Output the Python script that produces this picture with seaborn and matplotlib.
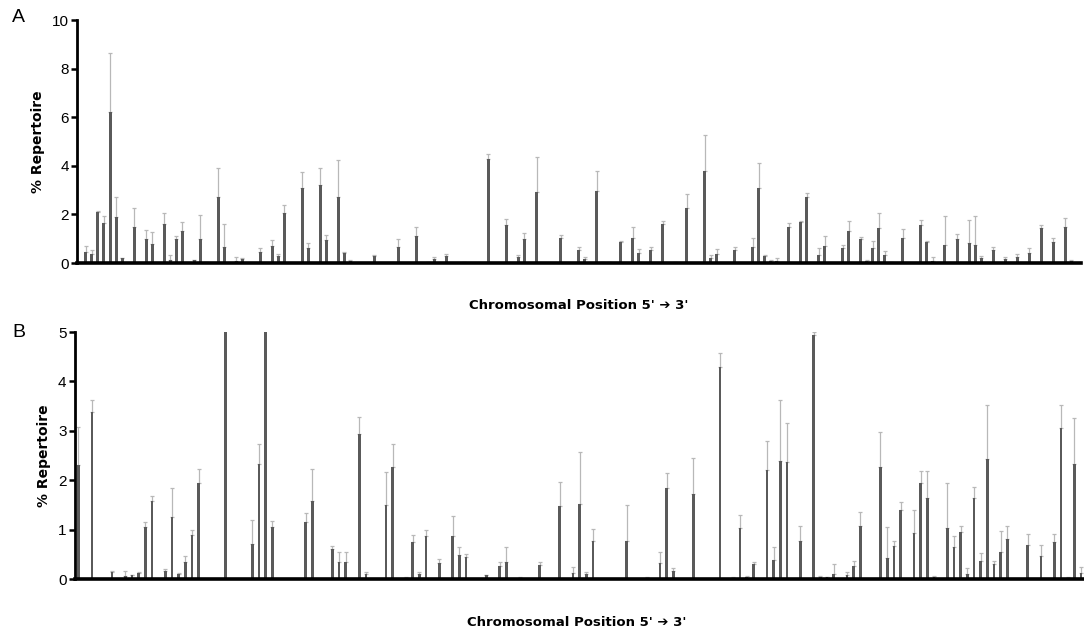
import numpy as np
import pandas as pd
import matplotlib
matplotlib.use("Agg")
import matplotlib.pyplot as plt
import seaborn as sns

# Panel A: bar index (5'->3'), mean % repertoire, top of the error bar
a_pos = [0, 1, 2, 3, 4, 5, 6, 8, 10, 11, 13, 14, 15, 16, 18, 19, 20, 22, 23, 25,
         26, 29, 31, 32, 33, 36, 37, 39, 40, 42, 43, 44, 48, 51, 52, 55, 57, 58, 60, 63,
         67, 70, 72, 73, 75, 79, 82, 83, 85, 86, 87, 89, 91, 92, 94, 96, 98, 100, 103, 104,
         105, 108, 111, 112, 113, 114, 115, 116, 117, 119, 120, 122, 123, 126, 127, 129, 130, 131, 132, 133,
         134, 136, 139, 140, 141, 142, 143, 145, 147, 148, 149, 151, 153, 155, 157, 159, 161, 163, 164]
a_val = [0.45, 0.38, 2.12, 1.64, 6.23, 1.88, 0.19, 1.47, 1.00, 0.78, 1.62, 0.14, 0.99, 1.30, 0.11, 0.99, 0.03, 2.71, 0.68, 0.10,
         0.16, 0.45, 0.72, 0.27, 2.08, 3.11, 0.60, 3.23, 0.93, 2.73, 0.41, 0.10, 0.30, 0.03, 0.68, 1.12, 0.03, 0.16, 0.27, 0.05,
         4.27, 1.56, 0.23, 0.99, 2.92, 1.05, 0.52, 0.18, 2.95, 0.05, 0.05, 0.86, 1.05, 0.40, 0.55, 1.62, 0.05, 2.25, 3.77, 0.20,
         0.37, 0.53, 0.64, 3.10, 0.27, 0.10, 0.10, 0.03, 1.48, 1.71, 2.70, 0.32, 0.71, 0.62, 1.33, 0.99, 0.10, 0.63, 1.44, 0.34,
         0.03, 1.04, 1.56, 0.86, 0.10, 0.03, 0.74, 0.99, 0.82, 0.74, 0.20, 0.52, 0.16, 0.25, 0.41, 1.44, 0.86, 1.47, 0.10]
a_err = [0.71, 0.52, 2.16, 1.92, 8.67, 2.70, 0.20, 2.25, 1.36, 1.26, 2.05, 0.33, 1.10, 1.67, 0.13, 1.99, 0.04, 3.90, 1.60, 0.25,
         0.20, 0.62, 0.96, 0.38, 2.37, 3.73, 0.82, 3.90, 1.14, 4.23, 0.45, 0.11, 0.32, 0.04, 0.99, 1.47, 0.04, 0.26, 0.36, 0.06,
         4.48, 1.82, 0.34, 1.23, 4.38, 1.16, 0.64, 0.25, 3.79, 0.06, 0.06, 0.90, 1.48, 0.58, 0.68, 1.74, 0.06, 2.85, 5.27, 0.32,
         0.58, 0.64, 1.03, 4.11, 0.32, 0.12, 0.20, 0.04, 1.64, 1.75, 2.90, 0.62, 1.10, 0.75, 1.74, 1.08, 0.12, 0.89, 2.05, 0.51,
         0.04, 1.40, 1.78, 0.89, 0.25, 0.04, 1.92, 1.19, 1.78, 1.92, 0.30, 0.68, 0.25, 0.38, 0.60, 1.58, 1.05, 1.85, 0.12]

# Panel B: same layout
b_pos = [0, 2, 5, 7, 8, 9, 10, 11, 13, 14, 15, 16, 17, 18, 22, 26, 27, 28, 29, 34,
         35, 38, 39, 40, 42, 43, 46, 47, 49, 50, 51, 52, 54, 56, 57, 58, 61, 63, 64, 66,
         69, 72, 74, 75, 76, 77, 82, 85, 87, 88, 89, 92, 96, 98, 99, 100, 101, 103, 104, 105,
         106, 108, 110, 111, 112, 113, 115, 116, 117, 120, 121, 122, 123, 125, 126, 127, 128, 130, 131, 132,
         133, 134, 135, 136, 137, 138, 139, 142, 144, 146, 147, 148, 149, 150]
b_val = [2.30, 3.39, 0.15, 0.06, 0.08, 0.12, 1.05, 1.57, 0.16, 1.25, 0.10, 0.35, 0.89, 1.95, 5.00, 0.70, 2.33, 5.00, 1.06, 1.15,
         1.57, 0.61, 0.35, 0.35, 2.93, 0.10, 1.49, 2.26, 0.03, 0.75, 0.10, 0.87, 0.32, 0.87, 0.49, 0.45, 0.08, 0.26, 0.35, 0.03,
         0.28, 1.47, 0.12, 1.51, 0.10, 0.77, 0.77, 0.03, 0.32, 1.84, 0.16, 1.72, 4.30, 0.03, 1.03, 0.05, 0.30, 2.20, 0.39, 2.39,
         2.37, 0.77, 4.93, 0.05, 0.04, 0.10, 0.08, 0.26, 1.08, 2.26, 0.42, 0.66, 1.39, 0.93, 1.95, 1.64, 0.05, 1.04, 0.64, 0.95,
         0.10, 1.63, 0.37, 2.42, 0.30, 0.54, 0.81, 0.69, 0.47, 0.74, 3.05, 0.03, 2.33, 0.12]
b_err = [3.08, 3.62, 0.17, 0.16, 0.09, 0.15, 1.15, 1.68, 0.20, 1.84, 0.12, 0.47, 0.99, 2.23, 5.00, 1.19, 2.74, 5.00, 1.18, 1.34,
         2.22, 0.66, 0.54, 0.54, 3.28, 0.14, 2.17, 2.74, 0.04, 0.89, 0.15, 0.99, 0.41, 1.27, 0.64, 0.51, 0.09, 0.35, 0.64, 0.04,
         0.35, 1.97, 0.25, 2.57, 0.15, 1.02, 1.50, 0.04, 0.54, 2.14, 0.23, 2.44, 4.58, 0.04, 1.30, 0.06, 0.35, 2.79, 0.64, 3.62,
         3.15, 1.08, 5.00, 0.06, 0.05, 0.30, 0.14, 0.37, 1.35, 2.98, 1.06, 0.77, 1.56, 1.40, 2.18, 2.18, 0.06, 1.95, 0.88, 1.08,
         0.22, 1.86, 0.52, 3.53, 0.37, 0.98, 1.08, 0.92, 0.69, 0.92, 3.53, 0.04, 3.25, 0.25]

N_A = 166
N_B = 151

BAR = "#5a5a5a"
ERR = "#b8b8b8"
LABEL_FONT = ["DejaVu Sans"]
TICK_FONT = ["Liberation Sans", "DejaVu Sans"]


def full_frame(pos, val, n):
    v = np.zeros(n)
    v[pos] = val
    return pd.DataFrame({"pos": np.arange(n), "val": v})


def draw_panel(ax, pos, val, err, n, ymax, step, width, xlim):
    df = full_frame(pos, val, n)
    sns.barplot(data=df, x="pos", y="val", color=BAR, saturation=1,
                width=width, errorbar=None, linewidth=0, ax=ax, zorder=3)
    pos = np.array(pos)
    val = np.array(val)
    up = np.array(err) - val
    m = up > 0.005
    ax.errorbar(pos[m], val[m], yerr=[np.zeros(m.sum()), up[m]], fmt="none",
                ecolor=ERR, elinewidth=0.9, capsize=1.2, capthick=0.9, zorder=2)
    ax.set_xlim(*xlim)
    ax.set_ylim(0, ymax)
    ax.set_yticks(np.arange(0, ymax + 0.01, step))
    ax.set_xticks([])
    ax.set_xlabel("")
    ax.set_ylabel("% Repertoire", fontsize=10, fontweight="bold",
                  family=LABEL_FONT, labelpad=5, color="black")
    ax.tick_params(axis="y", length=4, width=1.8, labelsize=11, pad=2,
                   color="black", labelcolor="black")
    for t in ax.get_yticklabels():
        t.set_family(TICK_FONT)
    sns.despine(ax=ax)
    ax.spines["left"].set_linewidth(2)
    ax.spines["left"].set_color("black")
    ax.spines["bottom"].set_linewidth(2.6)
    ax.spines["bottom"].set_color("black")
    ax.spines["bottom"].set_zorder(4)


sns.set_style("ticks")
fig = plt.figure(figsize=(10.84, 6.33), dpi=100)

ax_a = fig.add_axes([0.071, 0.5845, 0.926, 0.3835])
draw_panel(ax_a, a_pos, a_val, a_err, N_A, 10, 2, 0.5, (-1.5, 165.6))

ax_b = fig.add_axes([0.069, 0.0853, 0.931, 0.3902])
draw_panel(ax_b, b_pos, b_val, b_err, N_B, 5, 1, 0.4, (-0.55, 150.45))

xlab = "Chromosomal Position 5' \u2794 3'"
fig.text(0.534, 0.518, xlab, ha="center", va="center", fontsize=9.5,
         fontweight="bold", family=LABEL_FONT, color="black")
fig.text(0.532, 0.017, xlab, ha="center", va="center", fontsize=9.5,
         fontweight="bold", family=LABEL_FONT, color="black")

fig.text(0.017, 0.972, "A", ha="center", va="center", fontsize=14,
         family=TICK_FONT, color="black")
fig.text(0.017, 0.474, "B", ha="center", va="center", fontsize=14,
         family=TICK_FONT, color="black")

fig.savefig("out.png", dpi=100)
